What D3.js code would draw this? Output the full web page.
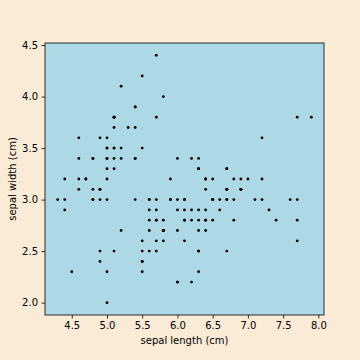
<!DOCTYPE html>
<html>
<head>
<meta charset="utf-8">
<script src="https://cdn.jsdelivr.net/npm/d3@7"></script>
<style>
  body { margin: 0; background: #faebd7; }
  svg { display: block; font-family: "DejaVu Sans", sans-serif; }
</style>
</head>
<body>
<div id="chart"></div>
<script>
// data (iris: sepal length / sepal width)
const sepalLength = [
  5.1,4.9,4.7,4.6,5.0,5.4,4.6,5.0,4.4,4.9,5.4,4.8,4.8,4.3,5.8,5.7,5.4,5.1,5.7,5.1,
  5.4,5.1,4.6,5.1,4.8,5.0,5.0,5.2,5.2,4.7,4.8,5.4,5.2,5.5,4.9,5.0,5.5,4.9,4.4,5.1,
  5.0,4.5,4.4,5.0,5.1,4.8,5.1,4.6,5.3,5.0,7.0,6.4,6.9,5.5,6.5,5.7,6.3,4.9,6.6,5.2,
  5.0,5.9,6.0,6.1,5.6,6.7,5.6,5.8,6.2,5.6,5.9,6.1,6.3,6.1,6.4,6.6,6.8,6.7,6.0,5.7,
  5.5,5.5,5.8,6.0,5.4,6.0,6.7,6.3,5.6,5.5,5.5,6.1,5.8,5.0,5.6,5.7,5.7,6.2,5.1,5.7,
  6.3,5.8,7.1,6.3,6.5,7.6,4.9,7.3,6.7,7.2,6.5,6.4,6.8,5.7,5.8,6.4,6.5,7.7,7.7,6.0,
  6.9,5.6,7.7,6.3,6.7,7.2,6.2,6.1,6.4,7.2,7.4,7.9,6.4,6.3,6.1,7.7,6.3,6.4,6.0,6.9,
  6.7,6.9,5.8,6.8,6.7,6.7,6.3,6.5,6.2,5.9
];
const sepalWidth = [
  3.5,3.0,3.2,3.1,3.6,3.9,3.4,3.4,2.9,3.1,3.7,3.4,3.0,3.0,4.0,4.4,3.9,3.5,3.8,3.8,
  3.4,3.7,3.6,3.3,3.4,3.0,3.4,3.5,3.4,3.2,3.1,3.4,4.1,4.2,3.1,3.2,3.5,3.6,3.0,3.4,
  3.5,2.3,3.2,3.5,3.8,3.0,3.8,3.2,3.7,3.3,3.2,3.2,3.1,2.3,2.8,2.8,3.3,2.4,2.9,2.7,
  2.0,3.0,2.2,2.9,2.9,3.1,3.0,2.7,2.2,2.5,3.2,2.8,2.5,2.8,2.9,3.0,2.8,3.0,2.9,2.6,
  2.4,2.4,2.7,2.7,3.0,3.4,3.1,2.3,3.0,2.5,2.6,3.0,2.6,2.3,2.7,3.0,2.9,2.9,2.5,2.8,
  3.3,2.7,3.0,2.9,3.0,3.0,2.5,2.9,2.5,3.6,3.2,2.7,3.0,2.5,2.8,3.2,3.0,3.8,2.6,2.2,
  3.2,2.8,2.8,2.7,3.3,3.2,2.8,3.0,2.8,3.0,2.8,3.8,2.8,2.8,2.6,3.0,3.4,3.1,3.0,3.1,
  3.1,3.1,2.7,3.2,3.3,3.0,2.5,3.0,3.4,3.0
];
const xTicks = [4.5, 5.0, 5.5, 6.0, 6.5, 7.0, 7.5, 8.0];
const yTicks = [2.0, 2.5, 3.0, 3.5, 4.0, 4.5];

// config
const width = 360;
const height = 360;
const margin = {top: 43, right: 36, bottom: 45, left: 45};
const innerW = width - margin.left - margin.right;
const innerH = height - margin.top - margin.bottom;

const points = sepalLength.map((d, i) => ({x: d, y: sepalWidth[i]}));

// matplotlib style 5% padding
const pad = (ext) => {
  const r = ext[1] - ext[0];
  return [ext[0] - r * 0.05, ext[1] + r * 0.05];
};

const x = d3.scaleLinear()
  .domain(pad(d3.extent(sepalLength)))
  .range([0, innerW]);
const y = d3.scaleLinear()
  .domain(pad(d3.extent(sepalWidth)))
  .range([innerH, 0]);

const svg = d3.select("#chart").append("svg")
  .attr("width", width)
  .attr("height", height)
  .style("background-color", "#faebd7");

const g = svg.append("g")
  .attr("transform", `translate(${margin.left},${margin.top})`);

g.append("rect")
  .attr("width", innerW)
  .attr("height", innerH)
  .attr("fill", "#add8e6");

g.selectAll("circle.pt")
  .data(points)
  .enter().append("circle")
  .attr("class", "pt")
  .attr("cx", d => x(d.x))
  .attr("cy", d => y(d.y))
  .attr("r", 1.4)
  .attr("fill", "black");

const xAxis = g.append("g")
  .attr("transform", `translate(0,${innerH})`)
  .call(d3.axisBottom(x).tickValues(xTicks).tickFormat(d3.format(".1f")).tickSizeOuter(0).tickSize(3.5).tickPadding(3.5));
const yAxis = g.append("g")
  .call(d3.axisLeft(y).tickValues(yTicks).tickFormat(d3.format(".1f")).tickSizeOuter(0).tickSize(3.5).tickPadding(3.5));

[xAxis, yAxis].forEach(a => {
  a.select(".domain").remove();
  a.selectAll("text").attr("font-size", 10).attr("fill", "#000").attr("font-family", "DejaVu Sans, sans-serif");
  a.selectAll("line").attr("stroke", "#000").attr("stroke-width", 0.8);
});

// frame
g.append("rect")
  .attr("width", innerW)
  .attr("height", innerH)
  .attr("fill", "none")
  .attr("stroke", "#000")
  .attr("stroke-width", 0.8);

svg.append("text")
  .attr("x", margin.left + innerW / 2)
  .attr("y", 344)
  .attr("text-anchor", "middle")
  .attr("font-size", 10)
  .text("sepal length (cm)");

svg.append("text")
  .attr("transform", `translate(16,${margin.top + innerH / 2}) rotate(-90)`)
  .attr("text-anchor", "middle")
  .attr("font-size", 10)
  .text("sepal width (cm)");
</script>
</body>
</html>
